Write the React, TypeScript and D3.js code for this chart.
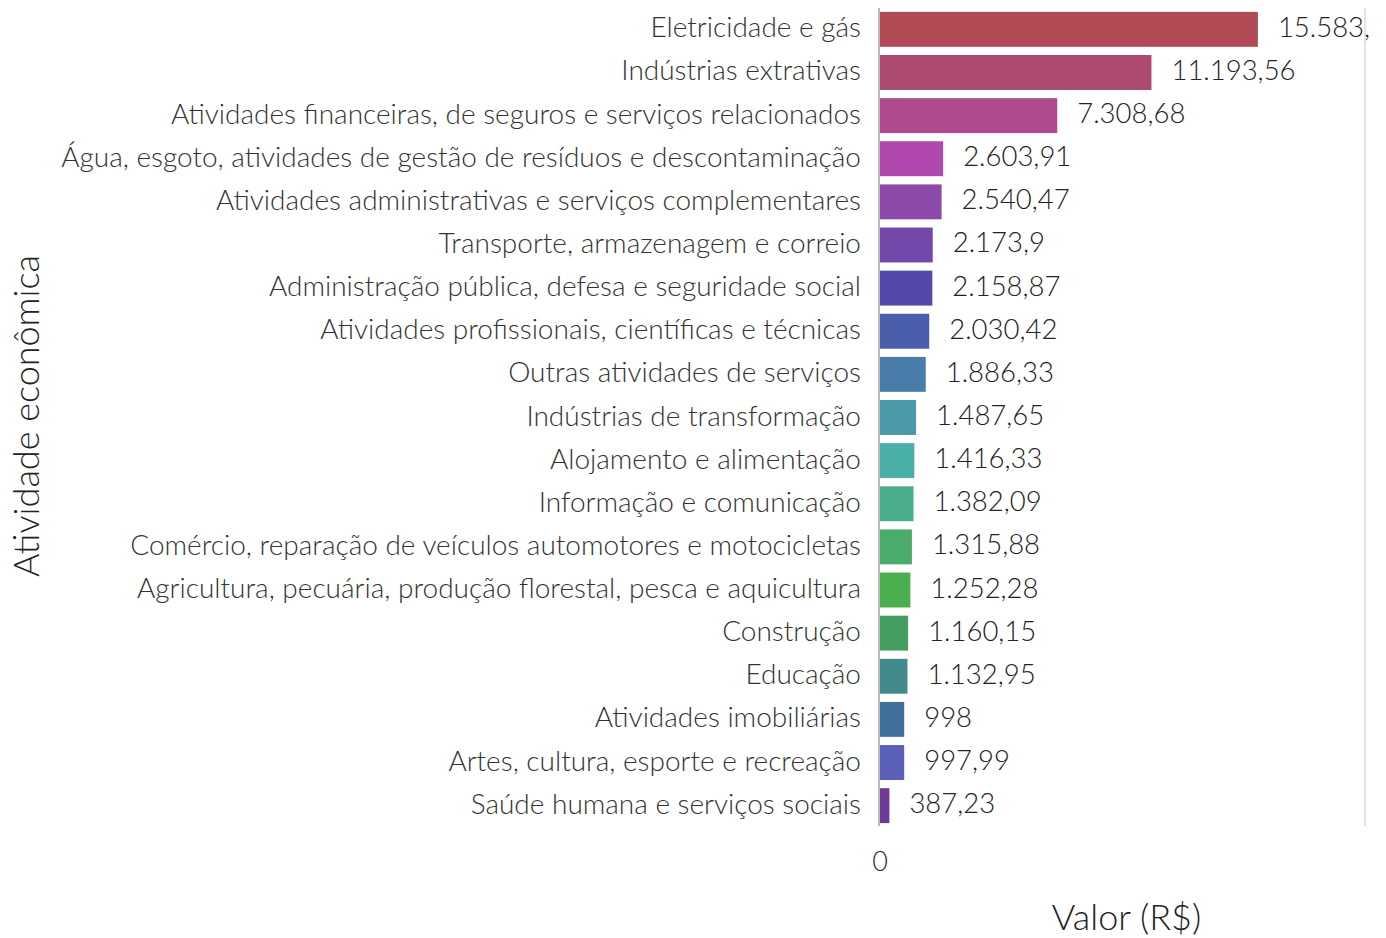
import React from "react";
import * as d3 from "d3";

const categories = [
  "Eletricidade e gás",
  "Indústrias extrativas",
  "Atividades financeiras, de seguros e serviços relacionados",
  "Água, esgoto, atividades de gestão de resíduos e descontaminação",
  "Atividades administrativas e serviços complementares",
  "Transporte, armazenagem e correio",
  "Administração pública, defesa e seguridade social",
  "Atividades profissionais, científicas e técnicas",
  "Outras atividades de serviços",
  "Indústrias de transformação",
  "Alojamento e alimentação",
  "Informação e comunicação",
  "Comércio, reparação de veículos automotores e motocicletas",
  "Agricultura, pecuária, produção florestal, pesca e aquicultura",
  "Construção",
  "Educação",
  "Atividades imobiliárias",
  "Artes, cultura, esporte e recreação",
  "Saúde humana e serviços sociais",
];

const values = [
  15583.42, 11193.56, 7308.68, 2603.91, 2540.47, 2173.9, 2158.87, 2030.42,
  1886.33, 1487.65, 1416.33, 1382.09, 1315.88, 1252.28, 1160.15, 1132.95, 998,
  997.99, 387.23,
];

const colors = [
  "#b04a55", "#ad4a70", "#b04a8f", "#b048ad", "#8e4aab", "#7249aa", "#5449ab",
  "#4a5eab", "#4a7cab", "#4a9aab", "#4aafa6", "#4aae8a", "#4aac6a", "#4ab04e",
  "#449e60", "#428a8c", "#42709e", "#5a60b8", "#6e3a96",
];

const xTicks = [0];
const xMax = 20000;

const W = 1370;
const H = 938;
const FONT = "Lato, sans-serif";

export default function App() {
  const x = d3.scaleLinear().domain([0, xMax]).range([880, 1365]);
  const y = d3.scaleBand<string>().domain(categories).range([8, 827]).paddingInner(0.19).paddingOuter(0.09);
  const loc = d3.formatLocale({ decimal: ",", thousands: ".", grouping: [3], currency: ["R$", ""] });
  const fmt = loc.format(",.2~f");

  return (
    <svg
      width={W}
      height={H}
      style={{ position: "absolute", left: 0, top: 0, display: "block", overflow: "hidden" }}
      fontFamily={FONT}
      fontWeight={300}
    >
      <rect x={0} y={0} width={W} height={H} fill="#ffffff" />
      <line x1={x(xMax)} x2={x(xMax)} y1={8} y2={826} stroke="#dddddd" strokeWidth={1.5} />
      {categories.map((c, i) => {
        const yy = y(c)!;
        const bw = y.bandwidth();
        return (
          <g key={c}>
            <rect x={x(0)} y={yy} width={x(values[i]) - x(0)} height={bw} fill={colors[i]} />
            <text
              x={861}
              y={yy + bw / 2 - 3}
              textAnchor="end"
              dominantBaseline="central"
              fontSize={28}
              fill="#333333"
            >
              {c}
            </text>
            <text
              x={x(values[i]) + 20}
              y={yy + bw / 2 - 3}
              dominantBaseline="central"
              fontSize={27.5}
              fill="#222222"
            >
              {fmt(values[i])}
            </text>
          </g>
        );
      })}
      <line x1={x(0) - 1} x2={x(0) - 1} y1={8} y2={826} stroke="#bbbbbb" strokeWidth={2} />
      {xTicks.map((t) => (
        <text key={t} x={x(t)} y={860} textAnchor="middle" dominantBaseline="central" fontSize={27} fill="#333333">
          {fmt(t)}
        </text>
      ))}
      <text x={(x(0) + x(xMax)) / 2 + 4} y={916} textAnchor="middle" dominantBaseline="central" fontSize={36} fill="#222222">
        Valor (R$)
      </text>
      <text
        transform={`translate(25, 416) rotate(-90)`}
        textAnchor="middle"
        dominantBaseline="central"
        fontSize={36}
        fill="#222222"
      >
        Atividade econômica
      </text>
    </svg>
  );
}
